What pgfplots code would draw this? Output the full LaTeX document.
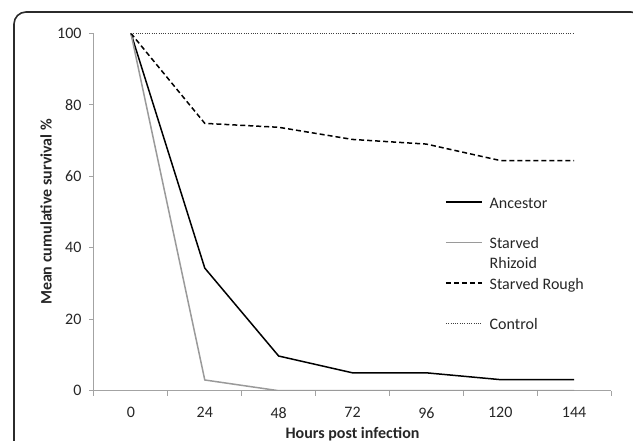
\documentclass[border=0pt]{standalone}
\usepackage{fontspec}
\setmainfont{Carlito}
\usepackage{pgfplots}
\pgfplotsset{compat=1.18}

\definecolor{axisgray}{HTML}{A3A3A3}
\definecolor{framegray}{HTML}{2B2B2B}
\definecolor{rhizoid}{HTML}{9A9A9A}
\definecolor{txt}{HTML}{262626}

\begin{document}
\fontsize{16bp}{19bp}\selectfont
\begin{tikzpicture}[x=1bp,y=1bp]
% the axis box sits at (0,0); the page is 633 x 441 around it
\path[use as bounding box] (-94,-50.3) rectangle (539,390.7);
\clip (-94,-50.3) rectangle (539,390.7);
% outer rounded frame
\draw[line width=1.6bp, framegray, rounded corners=12bp] (-80,-90) rectangle (549,378.7);
\begin{axis}[
    scale only axis,
    width=517bp, height=357.4bp,
    xmin=-0.5, xmax=6.5,
    ymin=0, ymax=100,
    axis lines*=left,
    axis line style={axisgray, line width=1bp},
    tick align=outside,
    major tick length=5bp,
    tick style={axisgray, line width=1bp},
    ytick={0,20,...,100},
    xtick={0,...,6},
    xticklabels={0,24,48,72,96,120,144},
    xtick style={draw=none},
    extra x ticks={-0.5,0.5,1.5,2.5,3.5,4.5,5.5,6.5},
    extra x tick labels={},
    extra x tick style={xtick style={draw=axisgray}},
    /pgf/number format/assume math mode=true,
    ticklabel style={font=\fontsize{16bp}{19bp}\selectfont, text=txt},
    yticklabel style={xshift=-2bp},
    xticklabel style={yshift=-6bp},
    xlabel={\textbf{Hours post infection}},
    ylabel={\textbf{Mean cumulative survival \%}},
    label style={font=\fontsize{16bp}{19bp}\selectfont, text=txt},
    x label style={at={(axis description cs:0.5,-0.1338)}, anchor=base},
    y label style={at={(axis description cs:-0.0818,0.5)}, anchor=base},
    legend cell align=left,
    legend image code/.code={\draw[#1] (0bp,6.6bp) -- (36bp,6.6bp); \path (0bp,0bp);},
    legend style={
        at={(axis description cs:0.6789,0.5663)}, anchor=north west,
        draw=none, fill=none, inner sep=0pt,
        column sep=7bp, row sep=0pt,
        font=\fontsize{16bp}{19bp}\selectfont, text=txt,
        nodes={inner sep=0pt, text height=20bp, text depth=20.5bp},
    },
]
\addplot[black, line width=1.5bp] coordinates {
    (0,100) (1,34.3) (2,9.7) (3,5.0) (4,5.0) (5,3.1) (6,3.1)};
\addlegendentry{Ancestor}
\addplot[rhizoid, line width=1.5bp] coordinates {
    (0,100) (1,3.0) (2,0) (3,0) (4,0) (5,0) (6,0)};
\addlegendentry{\vtop{\baselineskip=19.5bp\hbox{Starved}\hbox{Rhizoid}}}
\addplot[black, line width=1.5bp, dash pattern=on 5bp off 3bp] coordinates {
    (0,100) (1,74.8) (2,73.7) (3,70.3) (4,69.0) (5,64.4) (6,64.4)};
\addlegendentry{Starved Rough}
\addplot[black!75, line width=0.8bp, dash pattern=on 1bp off 1.3bp] coordinates {
    (0,100) (1,100) (2,100) (3,100) (4,100) (5,100) (6,100)};
\addlegendentry{Control}
\end{axis}
\end{tikzpicture}
\end{document}
